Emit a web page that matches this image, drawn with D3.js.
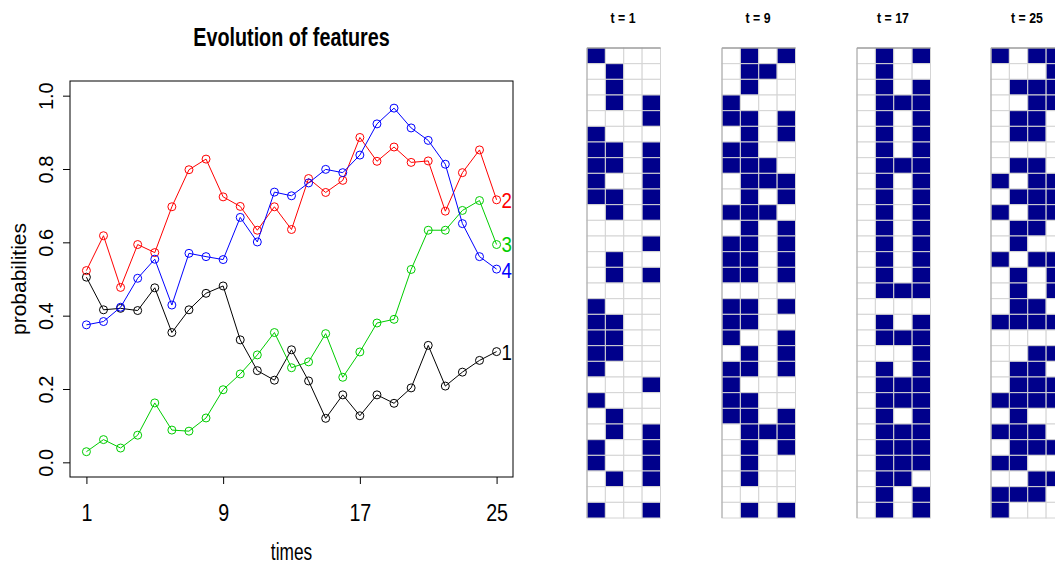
<!DOCTYPE html>
<html><head><meta charset="utf-8">
<script src="https://cdn.jsdelivr.net/npm/d3@7"></script>
<style>body{margin:0;background:#fff}svg{display:block}</style>
</head><body>
<svg id="c" width="1055" height="565"></svg>
<script>
const times = [1,2,3,4,5,6,7,8,9,10,11,12,13,14,15,16,17,18,19,20,21,22,23,24,25];
const feat1 = [0.505,0.416,0.420,0.414,0.476,0.354,0.416,0.461,0.481,0.334,0.250,0.224,0.307,0.222,0.120,0.184,0.127,0.184,0.161,0.203,0.319,0.208,0.246,0.278,0.302];
const feat2 = [0.523,0.618,0.477,0.594,0.572,0.697,0.798,0.827,0.724,0.698,0.633,0.697,0.635,0.774,0.736,0.769,0.886,0.821,0.860,0.818,0.822,0.685,0.790,0.852,0.716];
const feat3 = [0.029,0.062,0.039,0.074,0.162,0.088,0.085,0.121,0.198,0.241,0.293,0.354,0.258,0.274,0.351,0.232,0.301,0.380,0.390,0.526,0.633,0.633,0.687,0.714,0.594];
const feat4 = [0.375,0.384,0.423,0.502,0.554,0.429,0.570,0.561,0.553,0.668,0.601,0.737,0.727,0.762,0.799,0.790,0.838,0.923,0.966,0.912,0.878,0.813,0.651,0.561,0.527];
const seriesNames = ["1","2","3","4"];
const seriesColors = ["#000000","#FF0000","#00CD00","#0000FF"];
const xTicks = [1,9,17,25];
const yTicks = [0,0.2,0.4,0.6,0.8,1.0];

const matTitles = ["t = 1","t = 9","t = 17","t = 25"];
const mat1 = ["1000","0100","0100","0101","0001","1000","1101","1101","1001","1101","0101","0000","0001","0100","0101","0000","1000","1100","1100","1100","1000","0001","1000","0100","0101","1001","1001","0101","0000","1001"];
const mat9 = ["0101","0110","0100","1000","1101","0101","1100","1110","0111","0101","1110","0101","1101","1101","1101","0000","1101","1100","1001","0101","1101","1000","1100","1101","0111","0101","0100","0100","0000","0101"];
const mat17 = ["0101","0100","0101","0111","0101","0101","0101","0111","0101","0101","0101","0101","0101","0101","0101","0111","0000","0101","0111","0001","0101","0111","0111","0101","0111","0111","0111","0110","0101","0101"];
const mat25 = ["1011","0001","0111","0011","0110","0110","0000","0110","1011","0111","1011","0110","0100","1011","0101","0101","0110","1111","0000","0011","0110","0111","1111","0100","1110","0111","1100","0011","1110","1000"];

const svg = d3.select("#c");
const series = [feat1,feat2,feat3,feat4];
const font = "'Liberation Sans',Arial,sans-serif";

function hText(px, py, str, size, sx, opts = {}) {
  return svg.append("text")
    .attr("transform", `translate(${px},${py}) scale(${sx},1)`)
    .attr("text-anchor", opts.anchor || "middle")
    .attr("fill", opts.fill || "#000")
    .style("font-family", font)
    .style("font-weight", opts.bold ? "bold" : "normal")
    .style("font-size", size + "px")
    .text(str);
}

// ---- line chart ----
const x = d3.scaleLinear().domain([0.04,25.96]).range([70,513]);
const y = d3.scaleLinear().domain([-0.04,1.04]).range([477,81]);

hText(291.5, 46, "Evolution of features", 26, 0.76, {bold:true});

const gy = svg.append("g").attr("transform","translate(70,0)")
  .call(d3.axisLeft(y).tickValues(yTicks).tickSize(7).tickFormat(d3.format(".1f")));
gy.select(".domain").remove();
gy.selectAll("line").attr("stroke","#000");
gy.selectAll("text").attr("x",0).attr("dy",0).attr("text-anchor","middle")
  .attr("transform","translate(-17,0) rotate(-90)")
  .style("font-family",font).style("font-size","20px").attr("fill","#000");

const gx = svg.append("g").attr("transform","translate(0,477)")
  .call(d3.axisBottom(x).tickValues(xTicks).tickSize(7).tickFormat(d3.format("d")));
gx.select(".domain").remove();
gx.selectAll("line").attr("stroke","#000");
gx.selectAll("text").attr("x",0).attr("y",44).attr("dy",0).attr("transform","scale(0.82,1)")
  .style("font-family",font).style("font-size","24px").attr("fill","#000");

svg.append("rect").attr("x",70).attr("y",81).attr("width",443).attr("height",396)
  .attr("fill","none").attr("stroke","#000").attr("stroke-width",1);

hText(291.5, 560, "times", 24, 0.72);
svg.append("text").attr("transform","translate(26,279) rotate(-90)").attr("text-anchor","middle")
  .style("font-family",font).style("font-size","21px").text("probabilities");

const labelNudge = [0, 0, -1, 1];
const line = d3.line().x((d,i)=>x(times[i])).y(d=>y(d));
series.forEach((s,k)=>{
  const g = svg.append("g");
  g.append("path").datum(s).attr("d",line).attr("fill","none").attr("stroke",seriesColors[k]).attr("stroke-width",1);
  g.selectAll("circle").data(s).join("circle").attr("cx",(d,i)=>x(times[i])).attr("cy",d=>y(d)).attr("r",4)
    .attr("fill","none").attr("stroke",seriesColors[k]).attr("stroke-width",1);
  hText(x(times[times.length-1])+5, y(s[s.length-1])+8 + labelNudge[k], seriesNames[k], 22, 0.85, {anchor:"start", fill:seriesColors[k]});
});

// ---- matrices ----
const mats = [mat1,mat9,mat17,mat25];
const matX = [587,722,857,991];
const cols = d3.scaleBand().domain([0,1,2,3]).range([0,73.5]);
const rows = d3.scaleBand().domain(d3.range(30)).range([0,470]);
mats.forEach((m,k)=>{
  const g = svg.append("g").attr("transform",`translate(${matX[k]},48)`);
  const cells = [];
  m.forEach((r,i)=>r.split("").forEach((c,j)=>cells.push({i,j,v:+c})));
  g.selectAll("rect").data(cells).join("rect")
    .attr("x",d=>cols(d.j)).attr("y",d=>rows(d.i)).attr("width",cols.bandwidth()).attr("height",rows.bandwidth())
    .attr("fill",d=>d.v?"#00008B":"#fff").attr("stroke","#d4d4d4").attr("stroke-width",1);
  g.append("line").attr("x1",0).attr("x2",73.5).attr("y1",0).attr("y2",0).attr("stroke","#808080");
  g.append("line").attr("x1",0).attr("x2",0).attr("y1",0).attr("y2",470).attr("stroke","#aaa");
  hText(matX[k]+36, 23, matTitles[k], 15, 0.82, {bold:true});
});
</script>
</body></html>
